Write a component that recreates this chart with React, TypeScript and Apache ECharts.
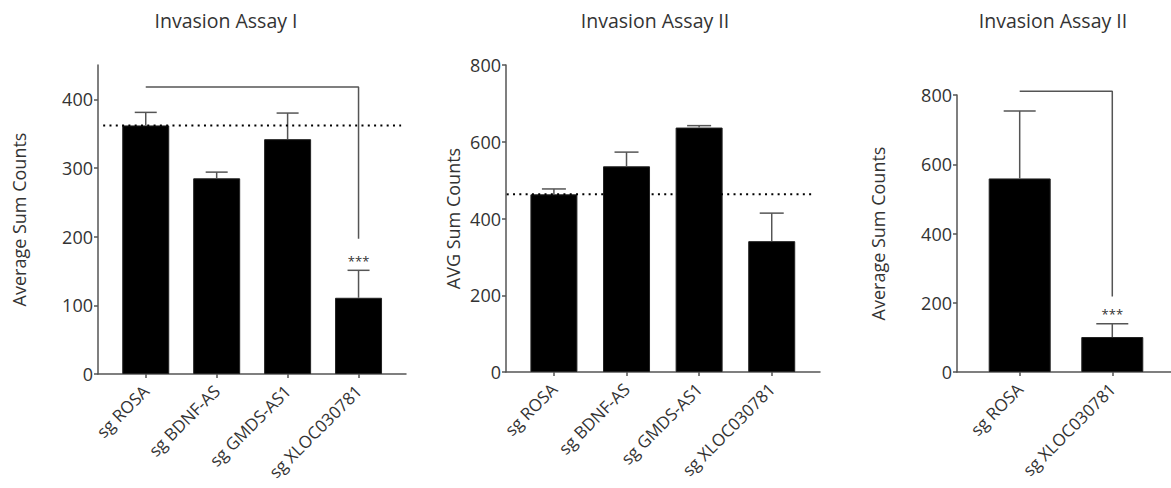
import React, { useEffect, useRef } from "react";
import * as echarts from "echarts";

// Invasion Assay I
const categoriesA = ["sg ROSA", "sg BDNF-AS", "sg GMDS-AS1", "sg XLOC030781"];
const meansA = [362, 285, 342, 111];
const errorsA = [19, 9, 38, 40];
const bracketA = { from: 0, to: 3, top: 418, drop: 197 };

// Invasion Assay II (four groups)
const categoriesB = ["sg ROSA", "sg BDNF-AS", "sg GMDS-AS1", "sg XLOC030781"];
const meansB = [463, 536, 637, 341];
const errorsB = [14, 37, 5, 73];

// Invasion Assay II (two groups)
const categoriesC = ["sg ROSA", "sg XLOC030781"];
const meansC = [559, 101];
const errorsC = [195, 38];
const bracketC = { from: 0, to: 1, top: 811, drop: 218 };

const yTicksA = [0, 100, 200, 300, 400];
const yTicksB = [0, 200, 400, 600, 800];
const yTicksC = [0, 200, 400, 600, 800];

const FONT = "Open Sans";
const TEXT = "#333";
const AXIS = "#555";

function errorBarSeries(idx: number, means: number[], errs: number[], capHalf: number) {
  return {
    type: "custom",
    xAxisIndex: idx,
    yAxisIndex: idx,
    z: 3,
    clip: false,
    data: means.map((m, i) => [i, m, m + errs[i]]),
    encode: { x: 0, y: [1, 2] },
    renderItem: (_params: any, api: any) => {
      const x = api.value(0);
      const p0 = api.coord([x, api.value(1)]);
      const p1 = api.coord([x, api.value(2)]);
      const style = { stroke: AXIS, lineWidth: 1.5 };
      return {
        type: "group",
        children: [
          { type: "line", shape: { x1: p0[0], y1: p0[1], x2: p1[0], y2: p1[1] }, style },
          { type: "line", shape: { x1: p1[0] - capHalf, y1: p1[1], x2: p1[0] + capHalf, y2: p1[1] }, style },
        ],
      };
    },
  };
}

function xAxis(idx: number, cats: string[], min: number, max: number) {
  const vals = cats.map((_, i) => i);
  return {
    type: "value",
    gridIndex: idx,
    min,
    max,
    splitLine: { show: false },
    axisLine: { show: true, onZero: false, lineStyle: { color: AXIS, width: 1.5 } },
    axisTick: { show: true, customValues: vals, length: 4, lineStyle: { color: AXIS, width: 1.5 } },
    axisLabel: {
      customValues: vals,
      formatter: (v: number) => cats[Math.round(v)] ?? "",
      rotate: 45,
      margin: 14,
      color: TEXT,
      fontFamily: FONT,
      fontSize: 17,
    },
  };
}

function yAxis(idx: number, max: number, ticks: number[], name: string, gap: number) {
  return {
    type: "value",
    gridIndex: idx,
    min: 0,
    max,
    name,
    nameLocation: "middle",
    nameGap: gap,
    nameTextStyle: { color: TEXT, fontFamily: FONT, fontSize: 18 },
    splitLine: { show: false },
    axisLine: { show: true, onZero: false, lineStyle: { color: AXIS, width: 1.5 } },
    axisTick: { show: true, customValues: ticks, length: 4, lineStyle: { color: AXIS, width: 1.5 } },
    axisLabel: { customValues: ticks, margin: 5, color: TEXT, fontFamily: FONT, fontSize: 18 },
  };
}

function barSeries(idx: number, means: number[], width: number) {
  return {
    type: "bar",
    xAxisIndex: idx,
    yAxisIndex: idx,
    barWidth: width,
    data: means.map((m, i) => [i, m]),
    itemStyle: { color: "#000", borderColor: "#222", borderWidth: 1 },
  };
}

function refLine(idx: number, value: number, x0: number, x1: number) {
  return {
    type: "line",
    xAxisIndex: idx,
    yAxisIndex: idx,
    symbol: "none",
    z: 4,
    clip: false,
    data: [[x0, value], [x1, value]],
    lineStyle: { color: "#000", width: 2, type: [2, 4.3] },
  };
}

function bracket(idx: number, b: { from: number; to: number; top: number; drop: number }) {
  return {
    type: "line",
    xAxisIndex: idx,
    yAxisIndex: idx,
    symbol: "none",
    z: 4,
    clip: false,
    data: [[b.from, b.top], [b.to, b.top], [b.to, b.drop]],
    lineStyle: { color: AXIS, width: 1.5 },
  };
}

// significance mark placed just above an error-bar cap
function stars(idx: number, x: number, y: number) {
  return {
    type: "custom",
    xAxisIndex: idx,
    yAxisIndex: idx,
    z: 5,
    clip: false,
    data: [[x, y]],
    renderItem: (_params: any, api: any) => {
      const p = api.coord([api.value(0), api.value(1)]);
      return {
        type: "text",
        x: p[0],
        y: p[1] - 3,
        style: {
          text: "***",
          fill: TEXT,
          font: `13px "${FONT}"`,
          align: "center",
          verticalAlign: "bottom",
        },
      };
    },
  };
}

export default function App() {
  const ref = useRef<HTMLDivElement>(null);

  useEffect(() => {
    if (!ref.current) return;
    const chart = echarts.init(ref.current, null, { renderer: "svg" });
    const titleStyle = { color: TEXT, fontFamily: FONT, fontSize: 19.5, fontWeight: "normal" as const };
    chart.setOption({
      animation: false,
      backgroundColor: "#fff",
      title: [
        { text: "Invasion Assay I", left: 226, top: 10, padding: 0, textAlign: "center", textStyle: titleStyle },
        { text: "Invasion Assay II", left: 655, top: 10, padding: 0, textAlign: "center", textStyle: titleStyle },
        { text: "Invasion Assay II", left: 1053, top: 10, padding: 0, textAlign: "center", textStyle: titleStyle },
      ],
      grid: [
        { left: 98, top: 65, width: 308, height: 309 },
        { left: 506, top: 65, width: 314, height: 307 },
        { left: 957, top: 95, width: 214, height: 277 },
      ],
      xAxis: [
        xAxis(0, categoriesA, -0.673, 3.669),
        xAxis(1, categoriesB, -0.66, 3.665),
        xAxis(2, categoriesC, -0.677, 1.634),
      ],
      yAxis: [
        yAxis(0, 450, yTicksA, "Average Sum Counts", 70),
        yAxis(1, 800, yTicksB, "AVG Sum Counts", 44),
        yAxis(2, 800, yTicksC, "Average Sum Counts", 70),
      ],
      series: [
        barSeries(0, meansA, 47),
        errorBarSeries(0, meansA, errorsA, 11),
        refLine(0, meansA[0], -0.6, 3.6),
        bracket(0, bracketA),
        stars(0, bracketA.to, meansA[3] + errorsA[3]),

        barSeries(1, meansB, 47),
        errorBarSeries(1, meansB, errorsB, 12),
        refLine(1, meansB[0], -0.65, 3.6),

        barSeries(2, meansC, 62),
        errorBarSeries(2, meansC, errorsC, 16),
        bracket(2, bracketC),
        stars(2, bracketC.to, meansC[1] + errorsC[1]),
      ],
    });
    return () => chart.dispose();
  }, []);

  return (
    <div
      ref={ref}
      style={{ position: "fixed", left: 0, top: 0, width: 1171, height: 488, background: "#fff" }}
    />
  );
}
